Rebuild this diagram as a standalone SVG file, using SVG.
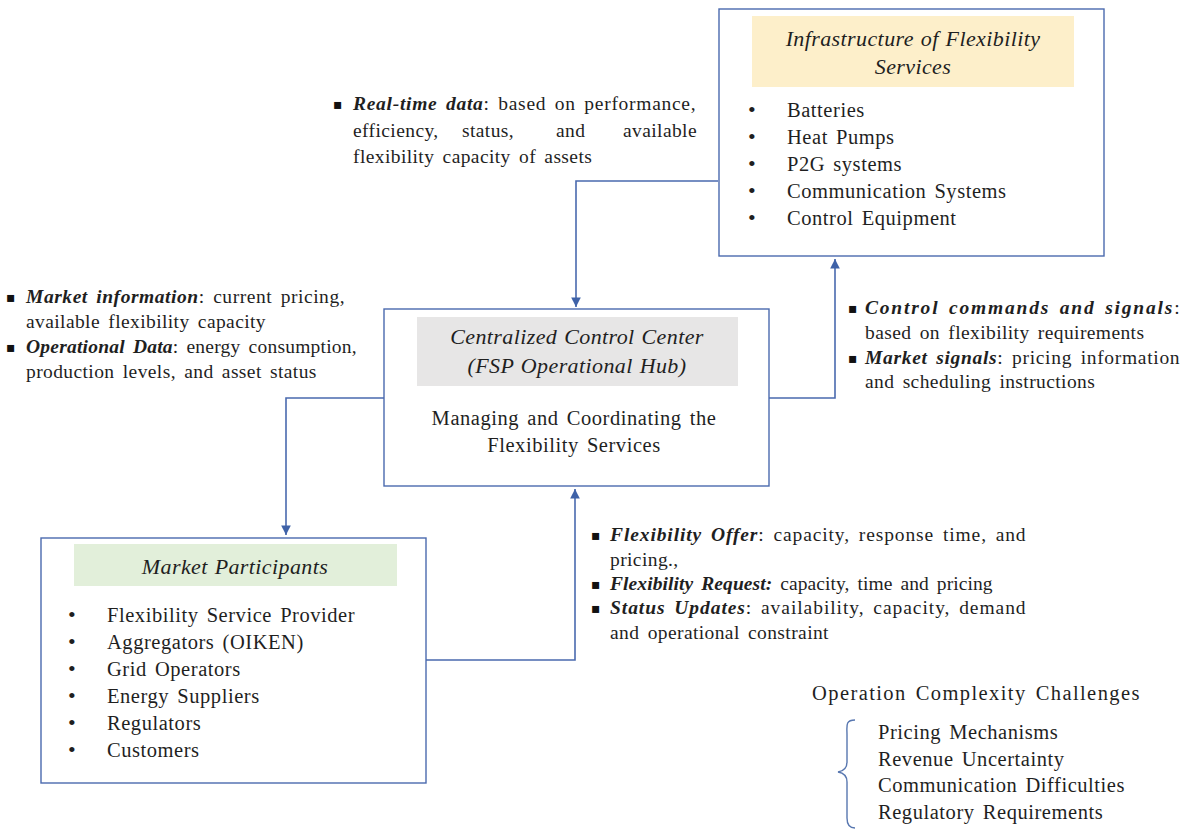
<svg xmlns="http://www.w3.org/2000/svg" width="1191" height="830" viewBox="0 0 1191 830">
  <defs>
    <style>
      .box { fill: #ffffff; stroke: #4a6aae; stroke-width: 1.4; }
      .conn { fill: none; stroke: #4a6aae; stroke-width: 1.6; }
      .title { font-family: "Liberation Serif", "Times New Roman", serif; font-style: italic; font-size: 22px; fill: #1f1f1f; letter-spacing: 0.4px; word-spacing: 1px; }
      .item { font-family: "Liberation Serif", "Times New Roman", serif; font-size: 20.5px; fill: #1f1f1f; letter-spacing: 0.55px; word-spacing: 2.5px; }
      .note { font-family: "Liberation Serif", "Times New Roman", serif; font-size: 19.5px; fill: #1f1f1f; letter-spacing: 0.4px; word-spacing: 3px; }
      .key { font-weight: bold; font-style: italic; }
      .sq { font-family: "DejaVu Sans", sans-serif; font-size: 14px; fill: #111; }
      .dot { font-family: "Liberation Serif", serif; font-size: 22px; fill: #1f1f1f; }
    </style>
    <marker id="arrow" viewBox="0 0 10 10" refX="10" refY="5" markerWidth="6" markerHeight="6" orient="auto" markerUnits="strokeWidth">
      <path d="M0,0 L10,5 L0,10 z" fill="#3f62a8"/>
    </marker>
  </defs>

  <rect width="1191" height="830" fill="#ffffff"/>

  <!-- connectors -->
  <g id="connectors">
    <path class="conn" d="M718,181 H576 V307" marker-end="url(#arrow)"/>
    <path class="conn" d="M384,398 H286 V535" marker-end="url(#arrow)"/>
    <path class="conn" d="M426,660 H575 V489" marker-end="url(#arrow)"/>
    <path class="conn" d="M769,398 H835 V259" marker-end="url(#arrow)"/>
  </g>

  <!-- infrastructure node -->
  <g id="infrastructure">
    <rect class="box" x="719" y="9" width="385" height="247"/>
    <rect x="752" y="16" width="322" height="71" fill="#fdefca"/>
    <text class="title" x="913" y="46" text-anchor="middle">Infrastructure of Flexibility</text>
    <text class="title" x="913" y="74" text-anchor="middle">Services</text>
    <g class="item">
      <text class="dot" x="748" y="117">•</text><text x="787" y="117">Batteries</text>
      <text class="dot" x="748" y="144">•</text><text x="787" y="144">Heat Pumps</text>
      <text class="dot" x="748" y="171">•</text><text x="787" y="171">P2G systems</text>
      <text class="dot" x="748" y="198">•</text><text x="787" y="198">Communication Systems</text>
      <text class="dot" x="748" y="225">•</text><text x="787" y="225">Control Equipment</text>
    </g>
  </g>

  <!-- control center node -->
  <g id="control-center">
    <rect class="box" x="384" y="309" width="385" height="177"/>
    <rect x="417" y="317" width="321" height="69" fill="#e7e6e6"/>
    <text class="title" x="577" y="344" text-anchor="middle">Centralized Control Center</text>
    <text class="title" x="577" y="373" text-anchor="middle">(FSP Operational Hub)</text>
    <text class="item" x="574" y="425" text-anchor="middle">Managing and Coordinating the</text>
    <text class="item" x="574" y="452" text-anchor="middle">Flexibility Services</text>
  </g>

  <!-- market participants node -->
  <g id="market-participants">
    <rect class="box" x="41" y="538" width="385" height="245"/>
    <rect x="74" y="544" width="323" height="42" fill="#e2efda"/>
    <text class="title" x="235" y="574" text-anchor="middle">Market Participants</text>
    <g class="item">
      <text class="dot" x="68" y="622">•</text><text x="107" y="622">Flexibility Service Provider</text>
      <text class="dot" x="68" y="649">•</text><text x="107" y="649">Aggregators (OIKEN)</text>
      <text class="dot" x="68" y="676">•</text><text x="107" y="676">Grid Operators</text>
      <text class="dot" x="68" y="703">•</text><text x="107" y="703">Energy Suppliers</text>
      <text class="dot" x="68" y="730">•</text><text x="107" y="730">Regulators</text>
      <text class="dot" x="68" y="757">•</text><text x="107" y="757">Customers</text>
    </g>
  </g>

  <!-- connector labels -->
  <g id="label-realtime" class="note">
    <text class="sq" x="333" y="109">▪</text>
    <text x="353" y="110" textLength="343" lengthAdjust="spacing"><tspan class="key">Real-time data</tspan>: based on performance,</text>
    <text x="353" y="137">efficiency,</text>
    <text x="462" y="137">status,</text>
    <text x="556" y="137">and</text>
    <text x="623" y="137">available</text>
    <text x="353" y="163">flexibility capacity of assets</text>
  </g>

  <g id="label-market-info" class="note">
    <text class="sq" x="6" y="302">▪</text>
    <text x="26" y="303" textLength="319" lengthAdjust="spacing"><tspan class="key">Market information</tspan>: current pricing,</text>
    <text x="26" y="328">available flexibility capacity</text>
    <text class="sq" x="6" y="352">▪</text>
    <text x="26" y="353" textLength="331" lengthAdjust="spacing"><tspan class="key">Operational Data</tspan>: energy consumption,</text>
    <text x="26" y="378">production levels, and asset status</text>
  </g>

  <g id="label-control" class="note">
    <text class="sq" x="848" y="313">▪</text>
    <text x="865" y="314" textLength="315" lengthAdjust="spacing"><tspan class="key">Control commands and signals</tspan>:</text>
    <text x="865" y="339">based on flexibility requirements</text>
    <text class="sq" x="848" y="363">▪</text>
    <text x="865" y="364" textLength="315" lengthAdjust="spacing"><tspan class="key">Market signals</tspan>: pricing information</text>
    <text x="865" y="388">and scheduling instructions</text>
  </g>

  <g id="label-offer" class="note">
    <text class="sq" x="591" y="540">▪</text>
    <text x="610" y="541" textLength="416" lengthAdjust="spacing"><tspan class="key">Flexibility Offer</tspan>: capacity, response time, and</text>
    <text x="610" y="566">pricing.,</text>
    <text class="sq" x="591" y="589">▪</text>
    <text x="610" y="590" textLength="383" lengthAdjust="spacing"><tspan class="key">Flexibility Request:</tspan> capacity, time and pricing</text>
    <text class="sq" x="591" y="613">▪</text>
    <text x="610" y="614" textLength="416" lengthAdjust="spacing"><tspan class="key">Status Updates</tspan>: availability, capacity, demand</text>
    <text x="610" y="639">and operational constraint</text>
  </g>

  <!-- challenges list -->
  <g id="challenges">
    <text class="item" x="812" y="700" textLength="328" lengthAdjust="spacing">Operation Complexity Challenges</text>
    <path d="M855,720 C845,720 847,726 847,735 L847,762 C847,768 844,771 838,772 C844,773 847,776 847,782 L847,818 C847,824 849,828 855,828" fill="none" stroke="#5877b0" stroke-width="1.4"/>
    <g class="item">
      <text x="878" y="739">Pricing Mechanisms</text>
      <text x="878" y="766">Revenue Uncertainty</text>
      <text x="878" y="792">Communication Difficulties</text>
      <text x="878" y="819">Regulatory Requirements</text>
    </g>
  </g>
</svg>
